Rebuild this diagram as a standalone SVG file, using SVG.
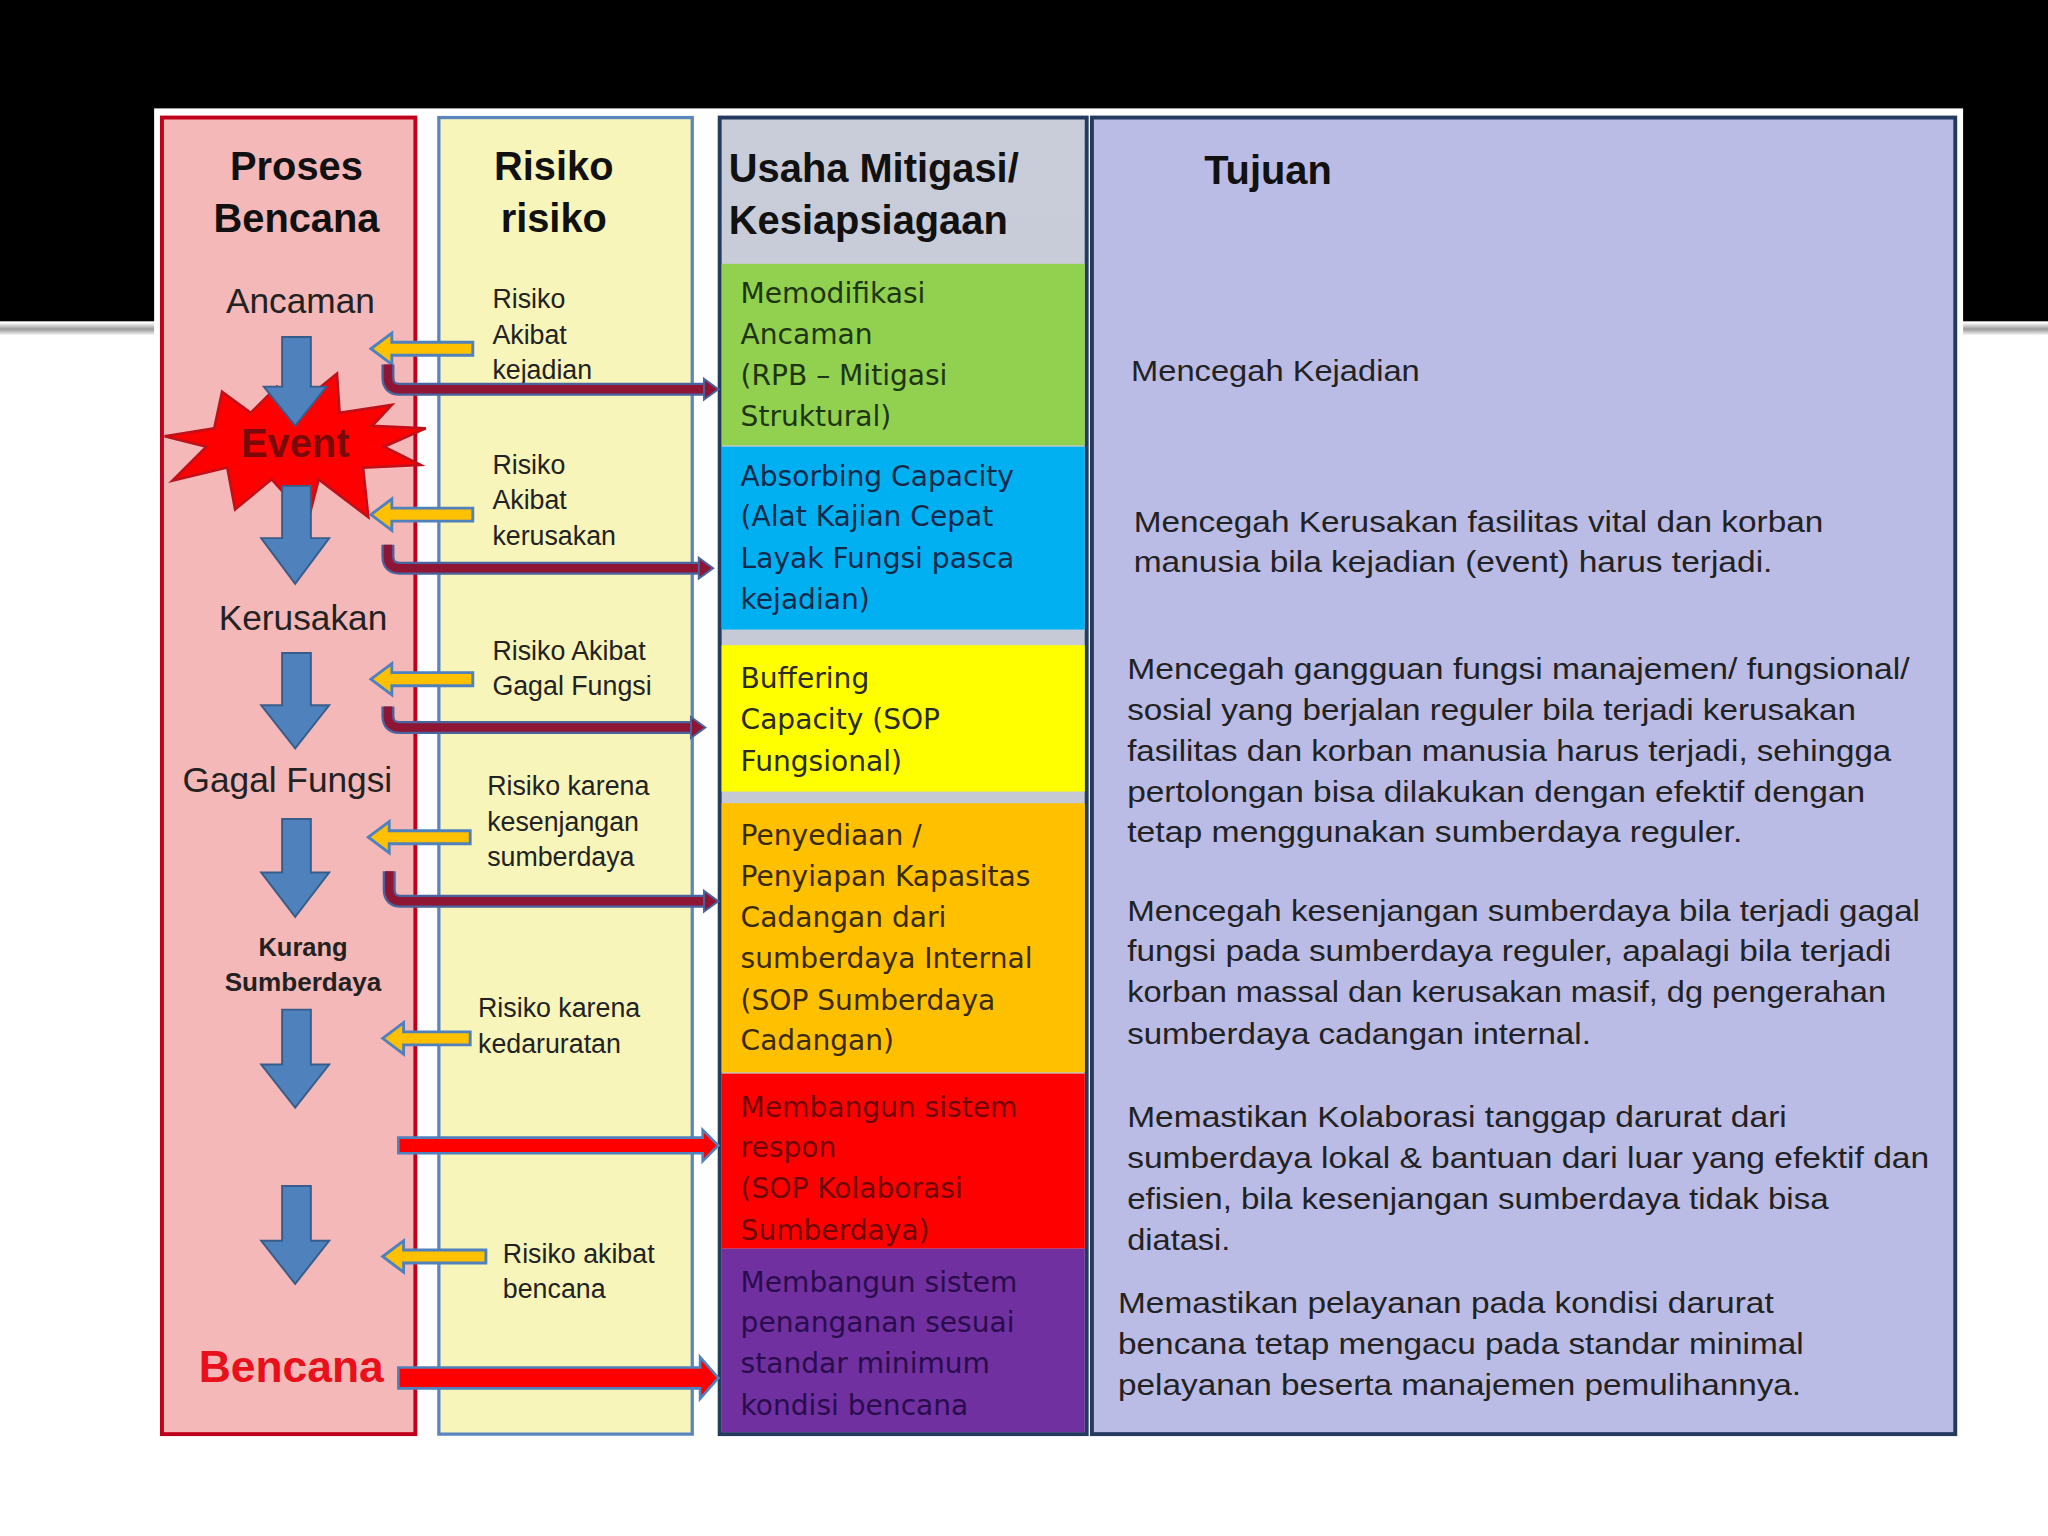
<svg xmlns="http://www.w3.org/2000/svg" width="2048" height="1536" viewBox="0 0 2048 1536">
<defs>
<style>
.hd{font-family:"Liberation Sans",Arial,sans-serif;font-weight:bold;font-size:30.5px;fill:#111}
.st{font-family:"Liberation Sans",Arial,sans-serif;font-size:27px;fill:#222}
.rk{font-family:"Liberation Sans",Arial,sans-serif;font-size:20.5px;fill:#222}
.mt{font-family:"DejaVu Sans",Verdana,sans-serif;font-size:21.5px}
.tj{font-family:"Liberation Sans",Arial,sans-serif;font-size:22px;fill:#222}
.down{fill:#4f81bd;stroke:#385d8a;stroke-width:1.5}
.left{fill:#ffc000;stroke:#4f81bd;stroke-width:2.2}
.bo{fill:none;stroke:#4a64a0;stroke-width:10}
.bi{fill:none;stroke:#8e1533;stroke-width:6.5}
.bh{fill:#8e1533;stroke:#4a64a0;stroke-width:1.5}
.ra{fill:#ff0000;stroke:#4f81bd;stroke-width:2}
</style>
<linearGradient id="line" x1="0" y1="0" x2="0" y2="1">
<stop offset="0" stop-color="#ffffff"/><stop offset="0.5" stop-color="#9a9a9a"/><stop offset="1" stop-color="#ffffff"/>
</linearGradient>
<linearGradient id="hdr" x1="0" y1="0" x2="0" y2="1">
<stop offset="0" stop-color="#c9cdda"/><stop offset="1" stop-color="#c2c6d2"/>
</linearGradient>
</defs>
<g transform="scale(1.306122)">
<g id="background">
<rect x="0" y="0" width="1568" height="1176" fill="#ffffff"/>
<rect x="0" y="0" width="1568" height="246" fill="#000000"/>
<rect x="0" y="247" width="1568" height="10" fill="url(#line)"/>
<rect x="118" y="83" width="1385" height="1027" fill="#ffffff"/>
</g>

<g id="col-proses">
<rect x="124" y="90" width="194" height="1008" fill="#f4b8b9" stroke="#c0001a" stroke-width="3"/>
<text class="hd" x="227" y="138" text-anchor="middle">Proses</text>
<text class="hd" x="227" y="178" text-anchor="middle">Bencana</text>
</g>
<g id="col-risiko">
<rect x="336" y="90" width="194" height="1008" fill="#f8f5bb" stroke="#5b85c0" stroke-width="2.5"/>
<text class="hd" x="424" y="138" text-anchor="middle">Risiko</text>
<text class="hd" x="424" y="178" text-anchor="middle">risiko</text>
</g>
<g id="col-usaha">
<rect x="551" y="90" width="281" height="1008" fill="url(#hdr)" stroke="#243a5e" stroke-width="3"/>
<text class="hd" x="558" y="139">Usaha Mitigasi/</text>
<text class="hd" x="558" y="179">Kesiapsiagaan</text>
</g>
<g id="col-tujuan">
<rect x="836" y="90" width="661" height="1008" fill="#bbbce6" stroke="#243a5e" stroke-width="3"/>
<text class="hd" x="922" y="141">Tujuan</text>
</g>

<g id="proses-steps">
<text class="st" x="230" y="240" text-anchor="middle">Ancaman</text>
<polygon points="326,328 294,342 322,356 278,358 282,396 244,367 236,398 208,367 180,390 174,358 132,368 158,342 126,334 164,328 170,300 192,316 212,296 226,312 258,286 260,316 300,310 285,326" fill="#ff0000" stroke="#c0101a" stroke-width="2"/>
<path class="down" d="M216,258 H238 V296 H250 L226,326 L202,296 H216 Z"/>
<path class="down" d="M216,372 H238 V412 H252 L226,447 L200,412 H216 Z"/>
<text x="226" y="350" text-anchor="middle" font-family="Liberation Sans, Arial, sans-serif" font-weight="bold" font-size="30.5" fill="#7a0a0a">Event</text>
<text class="st" x="232" y="482" text-anchor="middle">Kerusakan</text>
<path class="down" d="M216,500 H238 V540 H252 L226,573 L200,540 H216 Z"/>
<text class="st" x="220" y="606" text-anchor="middle">Gagal Fungsi</text>
<path class="down" d="M216,627 H238 V668 H252 L226,702 L200,668 H216 Z"/>
<text x="232" y="732" text-anchor="middle" font-family="Liberation Sans, Arial, sans-serif" font-weight="bold" font-size="19.5" fill="#222">Kurang</text>
<text x="232" y="759" text-anchor="middle" font-family="Liberation Sans, Arial, sans-serif" font-weight="bold" font-size="20" fill="#222">Sumberdaya</text>
<path class="down" d="M216,773 H238 V815 H252 L226,848 L200,815 H216 Z"/>
<path class="down" d="M216,908 H238 V950 H252 L226,983 L200,950 H216 Z"/>
<text x="223" y="1058" text-anchor="middle" font-family="Liberation Sans, Arial, sans-serif" font-weight="bold" font-size="34" fill="#e8101a">Bencana</text>
</g>

<g id="risiko-items">
<text class="rk" x="377" y="236">Risiko</text>
<text class="rk" x="377" y="263">Akibat</text>
<text class="rk" x="377" y="290">kejadian</text>
<text class="rk" x="377" y="363">Risiko</text>
<text class="rk" x="377" y="390">Akibat</text>
<text class="rk" x="377" y="417">kerusakan</text>
<text class="rk" x="377" y="505">Risiko Akibat</text>
<text class="rk" x="377" y="532">Gagal Fungsi</text>
<text class="rk" x="373" y="609">Risiko karena</text>
<text class="rk" x="373" y="636">kesenjangan</text>
<text class="rk" x="373" y="663">sumberdaya</text>
<text class="rk" x="366" y="779">Risiko karena</text>
<text class="rk" x="366" y="806">kedaruratan</text>
<text class="rk" x="385" y="967">Risiko akibat</text>
<text class="rk" x="385" y="994">bencana</text>
</g>

<g id="usaha-boxes">
<g id="box-green">
<rect x="552.5" y="202" width="278" height="139" fill="#92d050"/>
<g class="mt" fill="#1d3510">
<text x="567" y="232">Memodifikasi</text>
<text x="567" y="263">Ancaman</text>
<text x="567" y="295">(RPB – Mitigasi</text>
<text x="567" y="326">Struktural)</text>
</g>
</g>
<g id="box-blue">
<rect x="552.5" y="342" width="278" height="140" fill="#00b0f0"/>
<g class="mt" fill="#10294a">
<text x="567" y="372">Absorbing Capacity</text>
<text x="567" y="403">(Alat Kajian Cepat</text>
<text x="567" y="435">Layak Fungsi pasca</text>
<text x="567" y="466">kejadian)</text>
</g>
</g>
<g id="box-yellow">
<rect x="552.5" y="494" width="278" height="112" fill="#ffff00"/>
<g class="mt" fill="#2a2a20">
<text x="567" y="527">Buffering</text>
<text x="567" y="558">Capacity (SOP</text>
<text x="567" y="590">Fungsional)</text>
</g>
</g>
<g id="box-orange">
<rect x="552.5" y="615" width="278" height="206" fill="#ffc000"/>
<g class="mt" fill="#3a2a05">
<text x="567" y="647">Penyediaan /</text>
<text x="567" y="678">Penyiapan Kapasitas</text>
<text x="567" y="710">Cadangan dari</text>
<text x="567" y="741">sumberdaya Internal</text>
<text x="567" y="773">(SOP Sumberdaya</text>
<text x="567" y="804">Cadangan)</text>
</g>
</g>
<g id="box-red">
<rect x="552.5" y="822" width="278" height="134" fill="#ff0000"/>
<g class="mt" fill="#6e0505">
<text x="567" y="855">Membangun sistem</text>
<text x="567" y="886">respon</text>
<text x="567" y="917">(SOP Kolaborasi</text>
<text x="567" y="949">Sumberdaya)</text>
</g>
</g>
<g id="box-purple">
<rect x="552.5" y="956" width="278" height="140.5" fill="#7030a0"/>
<g class="mt" fill="#2a0c4c">
<text x="567" y="989">Membangun sistem</text>
<text x="567" y="1020">penanganan sesuai</text>
<text x="567" y="1051">standar minimum</text>
<text x="567" y="1083">kondisi bencana</text>
</g>
</g>
</g>

<g id="tujuan-texts">
<text class="tj" x="866" y="292" textLength="221" lengthAdjust="spacingAndGlyphs">Mencegah  Kejadian</text>
<text class="tj" x="868" y="407" textLength="528" lengthAdjust="spacingAndGlyphs">Mencegah Kerusakan fasilitas vital  dan korban</text>
<text class="tj" x="868" y="438" textLength="489" lengthAdjust="spacingAndGlyphs">manusia bila kejadian (event) harus terjadi.</text>
<text class="tj" x="863" y="520" textLength="599" lengthAdjust="spacingAndGlyphs">Mencegah gangguan fungsi manajemen/ fungsional/</text>
<text class="tj" x="863" y="551" textLength="558" lengthAdjust="spacingAndGlyphs">sosial yang berjalan reguler bila terjadi kerusakan</text>
<text class="tj" x="863" y="583" textLength="585" lengthAdjust="spacingAndGlyphs">fasilitas dan korban manusia harus terjadi, sehingga</text>
<text class="tj" x="863" y="614" textLength="565" lengthAdjust="spacingAndGlyphs">pertolongan bisa dilakukan dengan efektif dengan</text>
<text class="tj" x="863" y="645" textLength="471" lengthAdjust="spacingAndGlyphs">tetap menggunakan  sumberdaya reguler.</text>
<text class="tj" x="863" y="705" textLength="607" lengthAdjust="spacingAndGlyphs">Mencegah kesenjangan sumberdaya bila terjadi gagal</text>
<text class="tj" x="863" y="736" textLength="585" lengthAdjust="spacingAndGlyphs">fungsi pada sumberdaya reguler, apalagi bila terjadi</text>
<text class="tj" x="863" y="767" textLength="581" lengthAdjust="spacingAndGlyphs">korban massal dan kerusakan masif, dg pengerahan</text>
<text class="tj" x="863" y="799" textLength="355" lengthAdjust="spacingAndGlyphs">sumberdaya cadangan internal.</text>
<text class="tj" x="863" y="863" textLength="505" lengthAdjust="spacingAndGlyphs">Memastikan Kolaborasi tanggap darurat dari</text>
<text class="tj" x="863" y="894" textLength="614" lengthAdjust="spacingAndGlyphs">sumberdaya lokal &amp; bantuan dari luar yang efektif dan</text>
<text class="tj" x="863" y="926" textLength="537" lengthAdjust="spacingAndGlyphs">efisien, bila kesenjangan sumberdaya tidak bisa</text>
<text class="tj" x="863" y="957" textLength="79" lengthAdjust="spacingAndGlyphs">diatasi.</text>
<text class="tj" x="856" y="1005" textLength="502" lengthAdjust="spacingAndGlyphs">Memastikan pelayanan pada kondisi darurat</text>
<text class="tj" x="856" y="1037" textLength="525" lengthAdjust="spacingAndGlyphs">bencana tetap mengacu pada standar minimal</text>
<text class="tj" x="856" y="1068" textLength="523" lengthAdjust="spacingAndGlyphs">pelayanan beserta manajemen pemulihannya.</text>
</g>

<g id="connectors">
<path class="left" d="M284,267 L300,255 V262 H362 V272 H300 V279 Z"/>
<path class="left" d="M284,394 L300,382 V389 H362 V399 H300 V406 Z"/>
<path class="left" d="M284,520 L300,508 V515 H362 V525 H300 V532 Z"/>
<path class="left" d="M282,641 L298,629 V636 H360 V646 H298 V653 Z"/>
<path class="left" d="M293,795 L309,783 V790 H360 V800 H309 V807 Z"/>
<path class="left" d="M293,962 L309,950 V957 H372 V967 H309 V974 Z"/>

<path class="bo" d="M297,279 V289 Q297,298 306,298 H540"/>
<path class="bi" d="M297,279 V289 Q297,298 306,298 H540"/>
<polygon class="bh" points="539,290 550,298 539,306"/>
<path class="bo" d="M297,417 V426 Q297,435 306,435 H536"/>
<path class="bi" d="M297,417 V426 Q297,435 306,435 H536"/>
<polygon class="bh" points="535,427 546,435 535,443"/>
<path class="bo" d="M297,541 V548 Q297,557 306,557 H530"/>
<path class="bi" d="M297,541 V548 Q297,557 306,557 H530"/>
<polygon class="bh" points="529,549 540,557 529,565"/>
<path class="bo" d="M298,667 V681 Q298,690 307,690 H540"/>
<path class="bi" d="M298,667 V681 Q298,690 307,690 H540"/>
<polygon class="bh" points="539,682 550,690 539,698"/>

<path class="ra" d="M305,871 H538 V865 L550,877 L538,889 V883 H305 Z"/>
<path class="ra" d="M305,1047 H536 V1039 L550,1055 L536,1071 V1063 H305 Z"/>
</g>
</g>
</svg>
